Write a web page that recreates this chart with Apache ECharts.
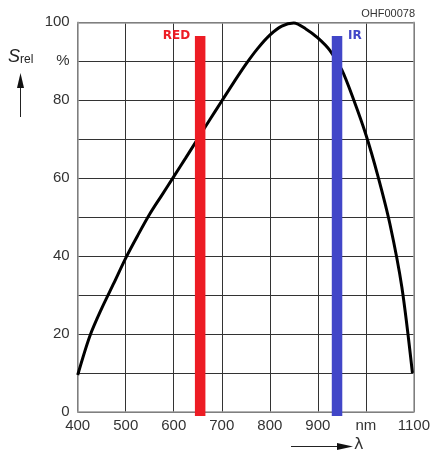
<!DOCTYPE html>
<html><head><meta charset="utf-8">
<script src="https://cdn.jsdelivr.net/npm/echarts@6/dist/echarts.min.js"></script>
<style>html,body{margin:0;padding:0;background:#fff}#c{width:433px;height:455px}</style>
</head><body><div id="c"></div>
<script>
const wavelengths = [400,425,450,475,500,525,550,575,600,625,650,675,700,725,750,775,800,825,850,875,900,925,950,975,1000,1025,1050,1075,1097];
const sensitivity = [9.5,19.4,26.6,33,39.5,45.3,50.8,55.6,60.4,65.2,70.1,75,79.8,84.6,89.2,93.3,96.7,99,99.8,98.3,96,92.8,87.8,80,71.2,60.6,48.3,32,10];
const redBand = {name:'RED', wavelength:655, top:96.5, bottom:-1};
const irBand = {name:'IR', wavelength:940, top:96.5, bottom:-1};
const xTickLabels = {400:'400',500:'500',600:'600',700:'700',800:'800',900:'900',1000:'nm',1100:'1100'};
const yTickLabels = {0:'0',20:'20',40:'40',60:'60',80:'80',90:'%',100:'100'};

const chart = echarts.init(document.getElementById('c'), null, {renderer:'canvas'});
const labelFont = {fontFamily:'Liberation Sans, Arial, sans-serif', fontSize:15, color:'#333'};
const curve = wavelengths.map((w,i)=>[w, sensitivity[i]]);
function band(b, color, pos, dist){
  return {type:'line', data:[[b.wavelength,b.bottom],[b.wavelength,b.top]], symbol:'none', clip:false, z:5,
    lineStyle:{color:color, width:10.5, cap:'butt'},
    markPoint:{symbol:'circle', symbolSize:0, data:[{coord:[b.wavelength,b.top]}],
      label:{show:true, position:pos, distance:dist, formatter:b.name, color:color, fontWeight:'bold', fontSize:12, fontFamily:'DejaVu Sans, Verdana, sans-serif'}}
  };
}
chart.setOption({
  animation:false,
  grid:{left:77.7, right:18, top:22.3, bottom:43, containLabel:false},
  xAxis:[{type:'value', min:400, max:1100, interval:100,
    axisLine:{show:true, lineStyle:{color:'#999', width:1.5}}, axisTick:{show:false},
    axisLabel:Object.assign({margin:6, formatter:v=>xTickLabels[v]||''}, labelFont),
    splitLine:{show:true, lineStyle:{color:'#333', width:1}}},
   {type:'value', position:'top', min:400, max:1100, interval:100,
    axisLine:{show:true, onZero:false, lineStyle:{color:'#999', width:1.5}}, axisTick:{show:false}, axisLabel:{show:false}, splitLine:{show:false}}],
  yAxis:[{type:'value', min:0, max:100, interval:10,
    axisLine:{show:true, lineStyle:{color:'#999', width:1.5}}, axisTick:{show:false},
    axisLabel:Object.assign({margin:8, formatter:v=>yTickLabels[v]||''}, labelFont),
    splitLine:{show:true, lineStyle:{color:'#333', width:1}}},
   {type:'value', position:'right', min:0, max:100, interval:10,
    axisLine:{show:true, onZero:false, lineStyle:{color:'#999', width:1.5}}, axisTick:{show:false}, axisLabel:{show:false}, splitLine:{show:false}}],
  series:[
    {type:'line', data:curve, smooth:0.3, symbol:'none', z:3, lineStyle:{color:'#000', width:3}},
    band(redBand,'#ed1c24','left',10),
    band(irBand,'#4146c8','right',11)
  ],
  graphic:[
    {type:'text', left:8, top:48, style:{text:'{s|S}{r|rel}', rich:{s:{fontStyle:'italic', fontSize:18, fontFamily:'Liberation Sans, Arial', fill:'#222', verticalAlign:'bottom'}, r:{fontSize:12, fontFamily:'Liberation Sans, Arial', fill:'#222', padding:[8,0,0,0], verticalAlign:'bottom'}}}},
    {type:'line', shape:{x1:20.5, y1:117, x2:20.5, y2:84}, style:{stroke:'#222', lineWidth:1}},
    {type:'polygon', shape:{points:[[20.5,73],[17,88],[24,88]]}, style:{fill:'#111'}},
    {type:'line', shape:{x1:291, y1:446.5, x2:340, y2:446.5}, style:{stroke:'#222', lineWidth:1}},
    {type:'polygon', shape:{points:[[353,446.5],[337,443],[337,450]]}, style:{fill:'#111'}},
    {type:'text', left:354, top:437, style:{text:'λ', fontSize:16, fontFamily:'DejaVu Sans, sans-serif', fill:'#333'}},
    {type:'text', right:18, top:8, style:{text:'OHF00078', fontSize:11, fontFamily:'Liberation Sans, Arial', fill:'#333'}}
  ]
});
</script></body></html>
